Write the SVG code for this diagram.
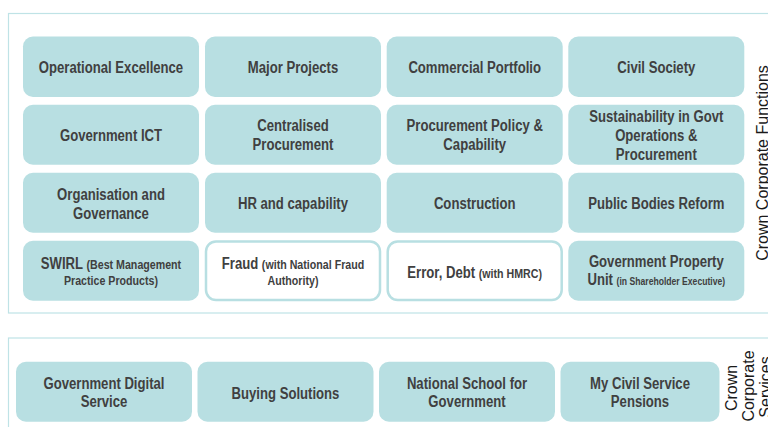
<svg xmlns="http://www.w3.org/2000/svg" width="768" height="427" viewBox="0 0 768 427">
<style>
.frame{fill:none;stroke:#bfe3e6;stroke-width:1.2}
.box{fill:#b8dfe2;stroke:none}
.wbox{fill:#ffffff;stroke:#b8dfe2;stroke-width:2.5}
.t{font-family:"Liberation Sans",Arial,sans-serif;font-weight:bold;font-size:16px;fill:#404040;text-anchor:middle}
.s{font-size:13px}
.xs{font-size:10.5px}
.v{font-family:"Liberation Sans",Arial,sans-serif;font-size:16px;fill:#1a1a1a;text-anchor:middle}
</style>
<rect width="768" height="427" fill="#ffffff"/>
<g id="frame-functions">
<rect class="frame" x="8.5" y="13.5" width="780" height="299.5"/>
<text class="v" transform="translate(768,163) rotate(-90)">Crown Corporate Functions</text>
</g>
<g id="frame-services">
<rect class="frame" x="8.5" y="338" width="780" height="120"/>
<text class="v" transform="translate(737,388) rotate(-90)">Crown</text>
<text class="v" transform="translate(754,386) rotate(-90)">Corporate</text>
<text class="v" transform="translate(771,387) rotate(-90)">Services</text>
</g>
<g id="n-operational-excellence"><rect class="box" x="23" y="36.5" width="176" height="60.5" rx="10"/><text class="t" transform="translate(111 73) scale(0.82 1)">Operational Excellence</text></g>
<g id="n-major-projects"><rect class="box" x="205" y="36.5" width="176" height="60.5" rx="10"/><text class="t" transform="translate(293 73) scale(0.82 1)">Major Projects</text></g>
<g id="n-commercial-portfolio"><rect class="box" x="386.7" y="36.5" width="176" height="60.5" rx="10"/><text class="t" transform="translate(474.7 73) scale(0.82 1)">Commercial Portfolio</text></g>
<g id="n-civil-society"><rect class="box" x="568.3" y="36.5" width="176" height="60.5" rx="10"/><text class="t" transform="translate(656.3 73) scale(0.82 1)">Civil Society</text></g>

<g id="n-government-ict"><rect class="box" x="23" y="104.7" width="176" height="60" rx="10"/><text class="t" transform="translate(111 141) scale(0.82 1)">Government ICT</text></g>
<g id="n-centralised-procurement"><rect class="box" x="205" y="104.7" width="176" height="60" rx="10"/><text class="t" transform="translate(293 131) scale(0.82 1)">Centralised</text><text class="t" transform="translate(293 150) scale(0.82 1)">Procurement</text></g>
<g id="n-procurement-policy"><rect class="box" x="386.7" y="104.7" width="176" height="60" rx="10"/><text class="t" transform="translate(474.7 131) scale(0.82 1)">Procurement Policy &amp;</text><text class="t" transform="translate(474.7 150) scale(0.82 1)">Capability</text></g>
<g id="n-sustainability"><rect class="box" x="568.3" y="104.7" width="176" height="60" rx="10"/><text class="t" transform="translate(656.3 122) scale(0.82 1)">Sustainability in Govt</text><text class="t" transform="translate(656.3 141) scale(0.82 1)">Operations &amp;</text><text class="t" transform="translate(656.3 160) scale(0.82 1)">Procurement</text></g>

<g id="n-organisation-governance"><rect class="box" x="23" y="172.7" width="176" height="60" rx="10"/><text class="t" transform="translate(111 199.5) scale(0.82 1)">Organisation and</text><text class="t" transform="translate(111 218.5) scale(0.82 1)">Governance</text></g>
<g id="n-hr-capability"><rect class="box" x="205" y="172.7" width="176" height="60" rx="10"/><text class="t" transform="translate(293 209) scale(0.82 1)">HR and capability</text></g>
<g id="n-construction"><rect class="box" x="386.7" y="172.7" width="176" height="60" rx="10"/><text class="t" transform="translate(474.7 209) scale(0.82 1)">Construction</text></g>
<g id="n-public-bodies-reform"><rect class="box" x="568.3" y="172.7" width="176" height="60" rx="10"/><text class="t" transform="translate(656.3 209) scale(0.82 1)">Public Bodies Reform</text></g>

<g id="n-swirl"><rect class="box" x="23" y="240.7" width="176" height="60" rx="10"/><text class="t" transform="translate(111 269) scale(0.82 1)">SWIRL <tspan class="s">(Best Management</tspan></text><text class="t s" transform="translate(111 285) scale(0.82 1)">Practice Products)</text></g>
<g id="n-fraud"><rect class="wbox" x="206" y="241.5" width="174" height="58.5" rx="10"/><text class="t" transform="translate(293 269) scale(0.82 1)">Fraud <tspan class="s">(with National Fraud</tspan></text><text class="t s" transform="translate(293 285) scale(0.82 1)">Authority)</text></g>
<g id="n-error-debt"><rect class="wbox" x="387.7" y="241.5" width="174" height="58.5" rx="10"/><text class="t" transform="translate(474.7 277.5) scale(0.82 1)">Error, Debt <tspan class="s">(with HMRC)</tspan></text></g>
<g id="n-government-property-unit"><rect class="box" x="568.3" y="240.7" width="176" height="60" rx="10"/><text class="t" transform="translate(656.3 267) scale(0.82 1)">Government Property</text><text class="t" transform="translate(656.3 285) scale(0.82 1)">Unit <tspan class="xs">(in Shareholder Executive)</tspan></text></g>

<g id="n-gds"><rect class="box" x="16" y="361.7" width="176" height="60" rx="10"/><text class="t" transform="translate(104 388.5) scale(0.82 1)">Government Digital</text><text class="t" transform="translate(104 407) scale(0.82 1)">Service</text></g>
<g id="n-buying-solutions"><rect class="box" x="197.5" y="361.7" width="176" height="60" rx="10"/><text class="t" transform="translate(285.5 398.5) scale(0.82 1)">Buying Solutions</text></g>
<g id="n-national-school"><rect class="box" x="379" y="361.7" width="176" height="60" rx="10"/><text class="t" transform="translate(467 388.5) scale(0.82 1)">National School for</text><text class="t" transform="translate(467 407) scale(0.82 1)">Government</text></g>
<g id="n-mycsp"><rect class="box" x="560.5" y="361.7" width="159" height="60" rx="10"/><text class="t" transform="translate(640 388.5) scale(0.82 1)">My Civil Service</text><text class="t" transform="translate(640 407) scale(0.82 1)">Pensions</text></g>
<g id="connectors"></g>
</svg>
